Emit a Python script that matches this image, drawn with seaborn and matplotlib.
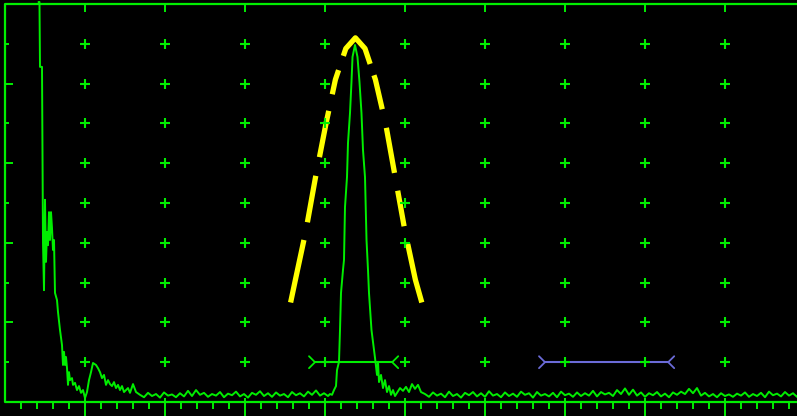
import numpy as np
import pandas as pd
import matplotlib
matplotlib.use("Agg")
import matplotlib.pyplot as plt
import seaborn as sns

# Screen units: x = % of screen width, amp = % of screen height

# initial pulse and first back-wall region, read point by point
echo_x = [4.19, 4.31, 4.375, 4.625, 4.75, 4.875, 5.0, 5.125, 5.25, 5.375,
          5.5, 5.625, 5.75, 5.875, 6.0, 6.125, 6.25, 6.5, 6.625, 6.875,
          7.125, 7.25, 7.375, 7.5, 7.625, 7.75, 7.875, 8.0, 8.125, 8.375,
          8.5, 8.75, 9.0, 9.25, 9.5, 9.75, 10.0, 10.25, 10.5, 10.75,
          11.0, 11.375, 11.625, 11.875, 12.125, 12.375, 12.625, 12.875, 13.125, 13.375,
          13.625, 13.875, 14.125, 14.375, 14.625, 14.875, 15.125, 15.375, 15.625, 16.0,
          16.375]
echo_amp = [100.5, 100.5, 84.2, 84.2, 39.9, 28.1, 50.8, 35.2, 42.7, 39.4,
            47.7, 40.7, 47.7, 43.7, 38.2, 40.7, 27.4, 25.6, 22.6, 18.1,
            14.3, 9.3, 12.6, 9.3, 11.3, 8.5, 4.3, 7.5, 5.5, 6.0,
            4.3, 4.8, 3.0, 4.0, 2.3, 3.0, 1.0, 2.5, 5.5, 7.5,
            9.8, 9.3, 8.5, 7.5, 6.0, 6.8, 4.3, 5.5, 4.5, 4.0,
            5.0, 3.5, 4.3, 3.0, 4.0, 2.5, 3.0, 3.5, 2.3, 4.5,
            2.5]

# baseline noise, one sample every half percent of width
noise_step = 0.5
noise_a_start = 16.875
noise_a = [1.8, 1.2, 2.3, 1.5, 2.0, 1.1, 2.4, 1.6, 1.9, 1.2,
           2.2, 1.4, 2.8, 1.5, 3.0, 1.8, 2.3, 1.3, 2.0, 1.6,
           2.5, 1.2, 2.1, 1.7, 2.6, 1.4, 2.0, 1.1, 2.3, 1.8,
           2.7, 1.5, 2.2, 1.3, 2.4, 1.6, 2.0, 1.2, 2.5, 1.7,
           2.2, 1.4, 2.6, 1.8, 2.9, 1.6, 2.2]

# main echo
peak_x = [40.375, 40.625, 40.875, 41.125, 41.375, 41.5, 41.75, 41.875, 42.0, 42.25,
          42.375, 42.5, 42.75, 42.875, 43.125, 43.31, 43.44, 43.75, 44.06, 44.31,
          44.56, 44.75, 45.0, 45.19, 45.375, 45.5, 45.81, 46.25, 46.5, 46.625,
          46.75, 47.0, 47.25, 47.5, 47.75, 48.0, 48.25, 48.5, 48.75, 49.0,
          49.375, 49.75, 50.125, 50.5, 50.875, 51.25, 51.625, 52.0]
peak_amp = [1.5, 2.0, 1.8, 3.0, 4.0, 8.0, 10.1, 18.1, 27.4, 33.2,
            35.7, 49.0, 56.5, 65.1, 72.6, 80.4, 86.7, 89.7, 86.7, 80.4,
            72.6, 63.3, 56.5, 40.7, 33.2, 27.4, 18.1, 11.1, 6.8, 10.1,
            5.0, 6.8, 3.5, 5.5, 2.5, 4.0, 1.8, 3.0, 1.5, 2.3,
            3.5, 2.8, 3.8, 2.5, 4.5, 3.3, 4.3, 2.5]

noise_b_start = 52.5
noise_b = [2.0, 1.3, 2.4, 1.6, 2.1, 1.2, 2.6, 1.5, 2.0, 1.1,
           2.3, 1.7, 2.5, 1.4, 2.2, 1.3, 2.7, 1.6, 2.0, 1.2,
           2.4, 1.5, 2.1, 1.3, 2.6, 1.8, 2.2, 1.1, 2.5, 1.6,
           2.0, 1.4, 2.3, 1.2, 2.6, 1.7, 2.1, 1.3, 2.4, 1.5,
           2.2, 1.6, 2.8, 1.4, 2.5, 1.9, 2.3, 1.5, 3.0, 2.0,
           3.4, 1.8, 3.1, 1.6, 2.4, 1.3, 2.2, 1.7, 2.5, 1.4,
           2.1, 1.2, 2.4, 1.8, 2.6, 2.0, 3.3, 2.2, 3.5, 1.6,
           2.3, 1.4, 2.0, 1.2, 2.2, 1.5, 1.9, 1.3, 2.1, 1.6,
           2.4, 1.3, 2.0, 1.5, 2.3, 1.2, 2.6, 1.7, 2.1, 1.4,
           2.5, 1.6, 2.2, 1.3, 2.0]

# DAC curve (yellow)
curve_x = [35.7, 36.3, 37.6, 38.8, 40.1, 41.3, 42.6, 43.8,
           45.0, 46.3, 47.6, 48.8, 50.0, 51.3, 52.1]
curve_amp = [25.0, 30.7, 42.9, 56.3, 69.7, 81.0, 88.8, 91.5,
             88.8, 81.0, 69.7, 56.3, 42.9, 30.7, 25.0]

# gates: start, end, level
gate_a = (38.75, 48.4, 10.0)
gate_b = (67.5, 82.9, 10.0)

grid_x = [10, 20, 30, 40, 50, 60, 70, 80, 90]
grid_amp = [10, 20, 30, 40, 50, 60, 70, 80, 90]

GREEN = "#00ee00"
YELLOW = "#ffff00"
VIOLET = "#6b6bd8"
# on/off lengths (pt) of the yellow segments, left end to right end
DAC_DASHES = (46, 13, 34, 13.7, 34, 12.2, 18, 10.8, 38, 8.6,
              25.2, 13.7, 33, 13, 26, 13, 44, 14)

sns.set_style("dark", {"axes.facecolor": "black", "figure.facecolor": "black"})
plt.rcParams["lines.scale_dashes"] = False

trace = pd.DataFrame({
    "x": np.concatenate([echo_x,
                         noise_a_start + noise_step * np.arange(len(noise_a)),
                         peak_x,
                         noise_b_start + noise_step * np.arange(len(noise_b))]),
    "amp": np.concatenate([echo_amp, noise_a, peak_amp, noise_b]),
})
dac = pd.DataFrame({"x": curve_x, "amp": curve_amp})

fig = plt.figure(figsize=(7.97, 4.16), dpi=100)
ax = fig.add_axes([0, 0, 1, 1])
ax.set_xlim(-0.625, 99.0)
ax.set_ylim(-3.52, 101.0)
ax.set_axis_off()

# frame and scale ticks
lw_frame = 1.6
ax.plot([0, 0], [0, 100], color=GREEN, lw=lw_frame, solid_capstyle="butt")
ax.plot([0, 100], [100, 100], color=GREEN, lw=lw_frame)
ax.plot([0, 100], [0, 0], color=GREEN, lw=lw_frame)

minor = [v for v in range(2, 100, 2) if v % 10 != 0]
ax.vlines(minor, -1.8, 0, color=GREEN, lw=1.4)
ax.vlines(grid_x, -3.6, 1.0, color=GREEN, lw=1.4)
ax.vlines(grid_x, 98.0, 100, color=GREEN, lw=1.4)
for a in grid_amp:
    ax.hlines(a, 0, 1.0 if a % 20 == 0 else 0.5, color=GREEN, lw=1.4)

# echo trace
sns.lineplot(data=trace, x="x", y="amp", sort=False, estimator=None,
             color=GREEN, lw=1.4, ax=ax, zorder=3)

# DAC curve
sns.lineplot(data=dac, x="x", y="amp", sort=False, estimator=None,
             color=YELLOW, lw=3.8, ax=ax, zorder=4,
             linestyle=(0, DAC_DASHES), dash_capstyle="butt")

# gates
for (g0, g1, lvl), col in [(gate_a, GREEN), (gate_b, VIOLET)]:
    ax.plot([g0, g1], [lvl, lvl], color=col, lw=1.5, zorder=3)
    ax.plot([g0 - 0.75, g0, g0 - 0.75], [lvl + 1.5, lvl, lvl - 1.5], color=col, lw=1.3, zorder=3)
    ax.plot([g1 + 0.75, g1, g1 + 0.75], [lvl + 1.5, lvl, lvl - 1.5], color=col, lw=1.3, zorder=3)

# graticule crosses
gx, gy = np.meshgrid(grid_x, grid_amp)
ax.plot(gx.ravel(), gy.ravel(), linestyle="none", marker="+", markersize=7.2,
        markeredgewidth=1.5, color=GREEN, zorder=5)

fig.savefig("out.png", dpi=100, facecolor="black")
